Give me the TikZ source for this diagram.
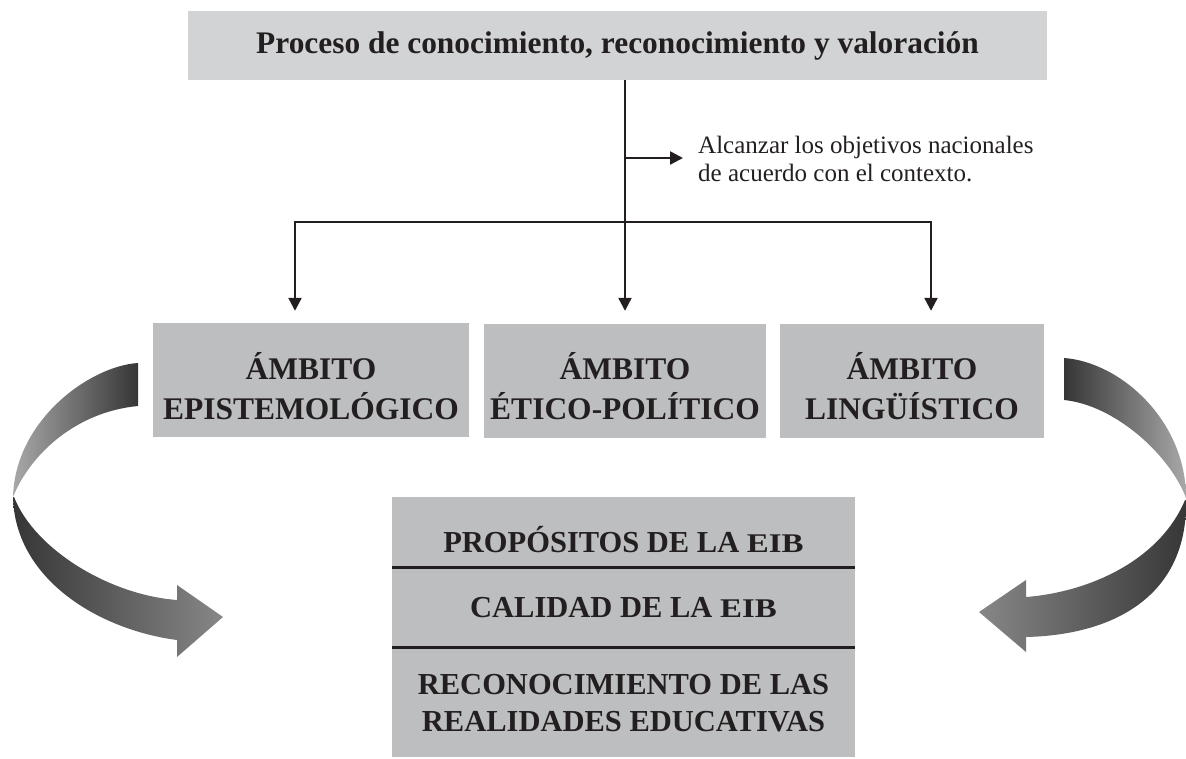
\documentclass[tikz,border=0pt]{standalone}
\usepackage{fontspec}
\usepackage{graphicx}
\setmainfont{Liberation Serif}
\usetikzlibrary{arrows.meta}
\definecolor{topgray}{HTML}{D1D3D4}
\definecolor{boxgray}{HTML}{BCBEC0}
\definecolor{ink}{HTML}{231F20}
\definecolor{ribdark}{HTML}{363636}
\definecolor{ribmid}{HTML}{6C6C6C}
\definecolor{riblight}{HTML}{A8A8A8}
\definecolor{ribhead}{HTML}{878787}
\newcommand\eibsc{\scalebox{1.22}[1]{\fontsize{27}{30}\selectfont EIB}}
\begin{document}
\begin{tikzpicture}[x=1pt,y=-1pt,
  line/.style={draw=ink,line width=2.3pt},
  conn/.style={line,-{Triangle[width=13pt,length=13pt]}},
  topbox/.style={fill=topgray,inner sep=0pt,minimum width=859pt,minimum height=69pt,text=ink,
    font=\bfseries\fontsize{31.4}{37}\selectfont},
  ambox/.style={fill=boxgray,inner sep=0pt,minimum height=114pt},
  bigtext/.style={inner sep=0pt,align=center,text=ink,font=\bfseries\fontsize{31.5}{40}\selectfont},
  cell/.style={fill=boxgray,inner sep=0pt,minimum width=463pt},
  celltext/.style={inner sep=0pt,text=ink,font=\bfseries\fontsize{30.5}{37}\selectfont},
  note/.style={inner sep=0pt,align=left,text=ink,font=\fontsize{25}{28}\selectfont},
  sep/.style={draw=ink,line width=2.7pt},
]
\useasboundingbox (0,0) rectangle (1186,759);

% top box
\node[topbox] (top) at (617.5,45.5) {Proceso de conocimiento, reconocimiento y valoración};

% three domain boxes
\node[ambox,minimum width=316pt] (e1) at (311,380) {};
\node[ambox,minimum width=282pt] (e2) at (625,381) {};
\node[ambox,minimum width=264pt] (e3) at (912,381) {};
\node[bigtext] (e1t) at (311,386) {ÁMBITO\\EPISTEMOLÓGICO};
\node[bigtext] (e2t) at (625,386) {ÁMBITO\\ÉTICO-POLÍTICO};
\node[bigtext] (e3t) at (912,386) {ÁMBITO\\LINGÜÍSTICO};

% note
\node[note,anchor=west] (note) at (698,159) {Alcanzar los objetivos nacionales\\de acuerdo con el contexto.};

% connectors
\coordinate (j) at (625,222);
\coordinate (lc) at (295,222);
\coordinate (rc) at (931,222);
\coordinate (side) at (625,158);
\draw[conn,shorten >=13pt] (top.south -| j) -- (e2.north -| j);
\draw[conn,shorten >=12pt] (j) -| (e1.north -| lc);
\draw[conn,shorten >=13pt] (j) -| (e3.north -| rc);
\draw[conn,shorten >=15pt] (side) -- (side -| note.west);

% bottom stack
\node[cell,minimum height=70pt] (p1) at (623.5,532) {};
\node[cell,minimum height=80pt] (p2) at (623.5,607) {};
\node[cell,minimum height=110pt] (p3) at (623.5,702) {};
\draw[sep] (p1.south west) -- (p1.south east);
\draw[sep] (p2.south west) -- (p2.south east);
\node[celltext,anchor=base] (p1t) at (623.5,552) {PROPÓSITOS DE LA \eibsc};
\node[celltext,anchor=base] (p2t) at (623.5,617) {CALIDAD DE LA \eibsc};
\node[celltext,align=center] (p3t) at (623.5,703) {RECONOCIMIENTO DE LAS\\REALIDADES EDUCATIVAS};

% left curved ribbon arrow
\shade[left color=riblight,right color=ribdark]
  (138,363) .. controls (90,366) and (15,420) .. (13,497)
  .. controls (30,455) and (75,412) .. (138,406) -- cycle;
\shade[left color=ribdark,middle color=ribmid,right color=ribhead]
  (14,497) .. controls (35,550) and (110,595) .. (177,600)
  -- (177,585) -- (223,617) -- (177,657) -- (177,640)
  .. controls (100,630) and (15,580) .. (13,497) -- cycle;

% right curved ribbon arrow
\shade[left color=ribdark,right color=riblight]
  (1064,358) .. controls (1120,362) and (1186,420) .. (1186,498)
  .. controls (1170,455) and (1115,405) .. (1064,400) -- cycle;
\shade[left color=ribhead,middle color=ribmid,right color=ribdark]
  (1185,500) .. controls (1160,560) and (1090,592) .. (1026,597)
  -- (1026,580) -- (979,612) -- (1026,652) -- (1026,637)
  .. controls (1115,635) and (1188,595) .. (1186,500) -- cycle;
\end{tikzpicture}
\end{document}
